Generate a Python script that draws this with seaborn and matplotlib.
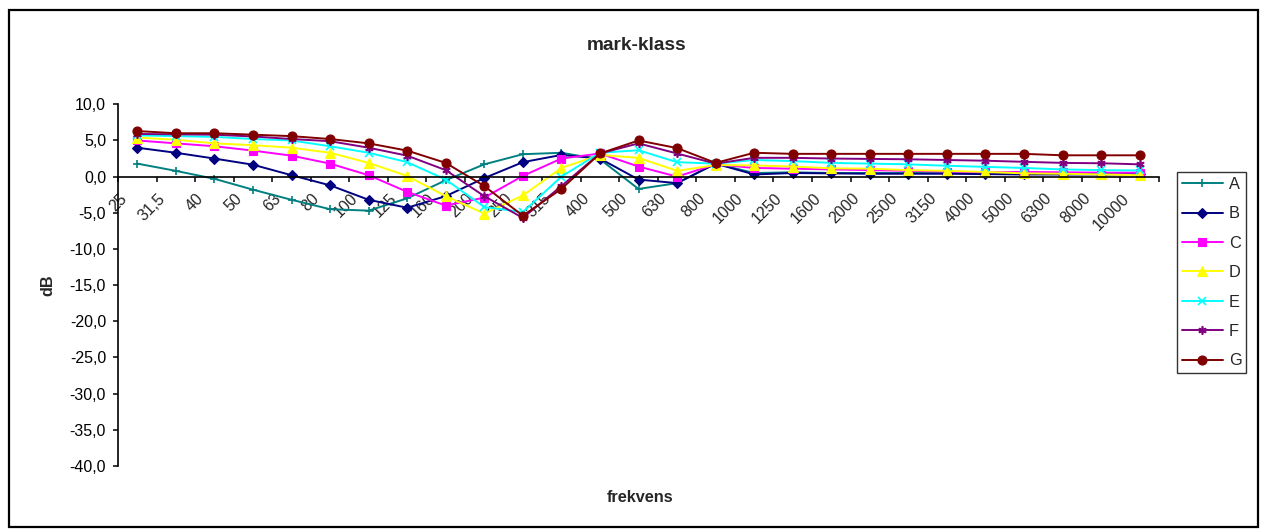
import numpy as np
import pandas as pd
import matplotlib
matplotlib.use("Agg")
import matplotlib.pyplot as plt
import seaborn as sns
from matplotlib.transforms import ScaledTranslation
from matplotlib.patches import Rectangle
from matplotlib.ticker import FixedLocator, FuncFormatter

# Third-octave band centre frequencies (Swedish decimal comma)
freqs = ["25", "31,5", "40", "50", "63", "80", "100", "125", "160", "200",
         "250", "315", "400", "500", "630", "800", "1000", "1250", "1600",
         "2000", "2500", "3150", "4000", "5000", "6300", "8000", "10000"]

A = [1.8, 0.8, -0.3, -1.8, -3.2, -4.5, -4.7, -3.0, -0.5, 1.7, 3.1, 3.3, 2.4,
     -1.7, -0.9, 1.8, 0.5, 0.6, 0.5, 0.5, 0.5, 0.5, 0.5, 0.4, 0.4, 0.4, 0.4]
B = [4.0, 3.3, 2.5, 1.65, 0.2, -1.2, -3.2, -4.3, -2.7, -0.2, 2.0, 3.0, 2.5,
     -0.4, -0.9, 1.8, 0.3, 0.5, 0.45, 0.4, 0.4, 0.4, 0.35, 0.3, 0.3, 0.3, 0.3]
C = [5.0, 4.6, 4.2, 3.6, 2.9, 1.8, 0.2, -2.1, -4.0, -2.9, 0.1, 2.5, 3.2,
     1.4, 0.0, 1.7, 1.2, 1.1, 1.0, 0.9, 0.8, 0.7, 0.6, 0.65, 0.6, 0.55, 0.55]
D = [5.4, 5.1, 4.6, 4.35, 4.0, 3.3, 1.9, 0.1, -2.7, -5.1, -2.6, 1.2, 3.0,
     2.6, 0.8, 1.6, 1.55, 1.4, 1.15, 1.1, 0.9, 0.8, 0.65, 0.45, 0.4, 0.3, 0.2]
E = [5.7, 5.6, 5.5, 5.2, 5.0, 4.2, 3.3, 2.0, -0.4, -4.2, -4.9, 0.0, 3.3,
     3.65, 2.0, 1.8, 2.3, 2.15, 1.9, 1.8, 1.7, 1.5, 1.35, 1.2, 1.0, 0.9, 0.85]
F = [5.9, 5.85, 5.8, 5.55, 5.2, 4.9, 4.0, 2.9, 0.9, -2.7, -5.7, -1.3, 3.2,
     4.6, 3.2, 1.8, 2.6, 2.6, 2.5, 2.45, 2.4, 2.3, 2.2, 2.05, 1.9, 1.85, 1.7]
G = [6.3, 6.0, 6.0, 5.8, 5.6, 5.2, 4.6, 3.6, 1.9, -1.3, -5.4, -1.7, 3.2,
     5.0, 3.95, 1.9, 3.3, 3.15, 3.15, 3.15, 3.15, 3.15, 3.15, 3.15, 2.95, 2.95, 2.95]

series_names = ["A", "B", "C", "D", "E", "F", "G"]
series_values = [A, B, C, D, E, F, G]

colors = ["#008080", "#000080", "#FF00FF", "#FFFF00", "#00FFFF", "#800080", "#800000"]
markers = ["+", "D", "s", "^", "x", (6, 2, 0), "o"]
msizes = [6, 4.6, 5.6, 7, 5.2, 6, 6.5]

sns.set_theme(style="white")
plt.rcParams["font.family"] = ["Liberation Sans", "DejaVu Sans"]

W, H = 1262, 531
fig = plt.figure(figsize=(W / 100, H / 100), dpi=100)
fig.patch.set_facecolor("white")

# outer chart border
fig.patches.append(Rectangle((9 / W, 1 - 527 / H), (1258 - 9) / W, (527 - 10) / H,
                             transform=fig.transFigure, fill=False,
                             edgecolor="black", linewidth=1.6))

x0, x1 = 118, 1159
ytop, ybot = 104.3, 466
ax = fig.add_axes([x0 / W, 1 - ybot / H, (x1 - x0) / W, (ybot - ytop) / H])
ax.set_facecolor("white")

pos = np.arange(len(freqs))
for name, vals, col, mk, ms in zip(series_names, series_values, colors, markers, msizes):
    df = pd.DataFrame({"pos": pos, "dB": vals})
    sns.lineplot(data=df, x="pos", y="dB", ax=ax, color=col, marker=mk,
                 markersize=ms, markeredgecolor=col, markerfacecolor=col,
                 markeredgewidth=1.2 if mk in ("+", "x") or isinstance(mk, tuple) else 0.8,
                 linewidth=1.4, label=name, legend=False)

ax.set_xlim(-0.5, len(freqs) - 0.5)
ax.set_ylim(-40, 10)

# y axis
ax.yaxis.set_major_locator(FixedLocator(np.arange(-40, 10.1, 5)))
ax.yaxis.set_major_formatter(FuncFormatter(lambda v, p: f"{v:.1f}".replace(".", ",")))
ax.tick_params(axis="y", which="major", left=True, length=3.6, width=1.1,
               direction="out", pad=5, labelsize=11.5, colors="black")

# x axis crossing at 0, ticks between categories
ax.spines["bottom"].set_position(("data", 0))
ax.spines["top"].set_visible(False)
ax.spines["right"].set_visible(False)
for s in ("bottom", "left"):
    ax.spines[s].set_color("black")
    ax.spines[s].set_linewidth(1.2)
ax.xaxis.set_minor_locator(FixedLocator(np.arange(-0.5, len(freqs), 1.0)))
ax.set_xticks(pos)
ax.set_xticklabels(freqs, rotation=45, ha="right", va="center",
                   rotation_mode="anchor", fontsize=11.5)
ax.tick_params(axis="x", which="major", bottom=True, length=0, pad=14)
ax.tick_params(axis="x", which="minor", bottom=True, length=3.6, width=1.1,
               direction="out", color="black")
shift = ScaledTranslation(-0.13, 0, fig.dpi_scale_trans)
for lbl in ax.get_xticklabels():
    lbl.set_transform(lbl.get_transform() + shift)

ax.set_xlabel("")
ax.set_ylabel("")
ax.grid(False)

fig.text(637 / W, 1 - 45 / H, "mark-klass", ha="center", va="center",
         fontsize=13.8, fontweight="bold")
fig.text(640 / W, 1 - 497 / H, "frekvens", ha="center", va="center",
         fontsize=11.7, fontweight="bold")
fig.text(48 / W, 1 - 285 / H, "dB", ha="center", va="center", rotation=90,
         fontsize=11.7, fontweight="bold")

leg = ax.legend(loc="upper left", bbox_to_anchor=(1177 / W, 1 - 172 / H),
                bbox_transform=fig.transFigure, borderaxespad=0,
                frameon=True, fancybox=False, shadow=False, fontsize=11.8,
                handlelength=2.5, handletextpad=0.35, labelspacing=0.88,
                borderpad=0.3)
leg.get_frame().set_edgecolor("black")
leg.get_frame().set_linewidth(1.0)

fig.savefig("out.png", dpi=100, facecolor="white")
